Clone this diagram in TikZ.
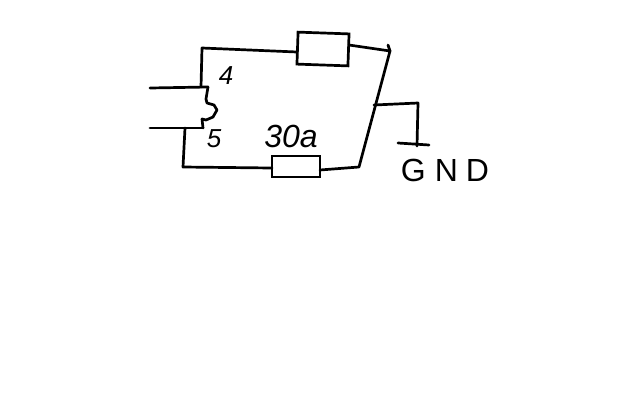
\documentclass[tikz,border=0pt]{standalone}
\usepackage{fontspec}
\setmainfont{Liberation Sans}
\begin{document}
\begin{tikzpicture}[x=1pt,y=-1pt,
  wire/.style={line width=2.7pt,line join=round,line cap=round,black},
  res/.style={draw=black,line width=2.7pt,fill=none,inner sep=0pt,minimum width=#1},
  hand/.style={font=\fontsize{26}{26}\selectfont\itshape,inner sep=0pt,text=black}]
\useasboundingbox (0,0) rectangle (640,400);
\fill[white] (0,0) rectangle (640,400);
% resistors
\node[res=51pt,minimum height=32pt,rotate=-2] (R1) at (323,49) {};
\node[res=48pt,minimum height=21pt] (R2) at (296,166.5) {};
% joints
\coordinate (inA) at (150,88);
\coordinate (inB) at (150,128);
\coordinate (a) at (208,87);
\coordinate (b) at (203,128);
\coordinate (ta) at (201,87);
\coordinate (tc) at (202,48);
\coordinate (r1l) at (297,52);
\coordinate (r1r) at (349,45);
\coordinate (tr) at (390,51);
\coordinate (ttick) at (388,45);
\coordinate (br) at (359,167);
\coordinate (r2r) at (320,170);
\coordinate (ba) at (185,128);
\coordinate (bc) at (183,167);
\coordinate (r2l) at (272,168);
\coordinate (j) at (374,105);
\coordinate (gc) at (418,103);
\coordinate (g) at (417,146);
\coordinate (gl) at (398,143);
\coordinate (gr) at (429,145);
% wires
\draw[wire] (inA) -- (a);
\draw[wire] (inB) -- (b);
\draw[wire] (a) -- (206,99) -- (207,103) -- (214,105) -- (217,110) -- (213,117) -- (206,120) -- (202,119) -- (b);
\draw[wire] (ta) -- (tc) -- (r1l);
\draw[wire] (r1r) -- (tr) -- (br) -- (r2r);
\draw[wire] (ttick) -- (tr);
\draw[wire] (ba) -- (bc) -- (r2l);
\draw[wire] (j) -- (gc) -- (g);
\draw[wire] (gl) -- (gr);
% labels
\node[hand] (l4) at (226,76) {4};
\node[hand] (l5) at (214,139) {5};
\node[hand,font=\fontsize{32}{32}\selectfont\itshape] (l30) at (291,136) {30a};
\node[font=\fontsize{32}{32}\selectfont,inner sep=0pt,text=black] (lg) at (445,170) {G\kern9pt N\kern8pt D};
\end{tikzpicture}
\end{document}
